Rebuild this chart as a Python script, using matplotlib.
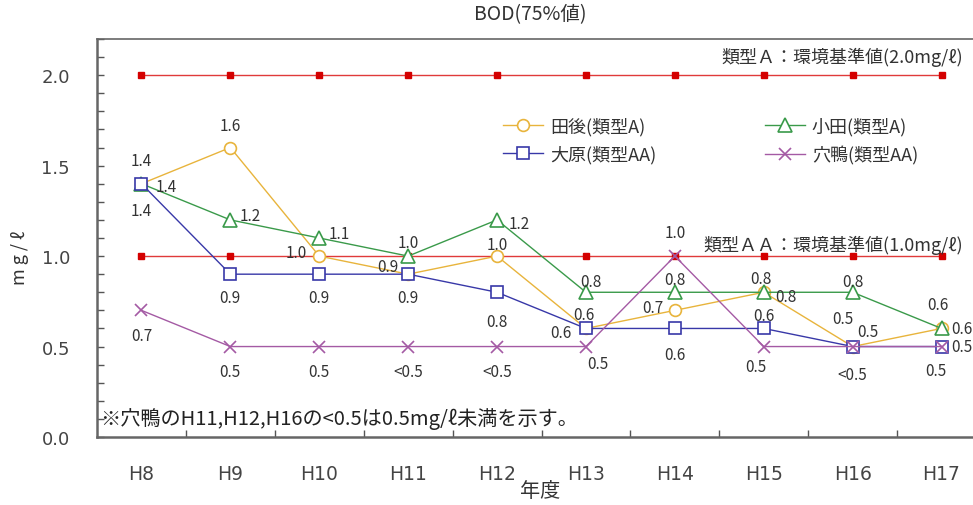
import matplotlib
matplotlib.use("Agg")
import matplotlib.pyplot as plt
from matplotlib.ticker import MultipleLocator, FixedLocator

plt.rcParams['font.family'] = ['Noto Sans CJK JP', 'DejaVu Sans']

# -----------------------------
# DATA
# -----------------------------
years = ["H8", "H9", "H10", "H11", "H12", "H13", "H14", "H15", "H16", "H17"]

tago = [1.4, 1.6, 1.0, 0.9, 1.0, 0.6, 0.7, 0.8, 0.5, 0.6]
oda = [1.4, 1.2, 1.1, 1.0, 1.2, 0.8, 0.8, 0.8, 0.8, 0.6]
ohara = [1.4, 0.9, 0.9, 0.9, 0.8, 0.6, 0.6, 0.6, 0.5, 0.5]
anagamo = [0.7, 0.5, 0.5, 0.5, 0.5, 0.5, 1.0, 0.5, 0.5, 0.5]

tago_lbl = ["1.4", "1.6", "1.0", "0.9", "1.0", "0.6", "0.7", "0.8", "0.5", "0.6"]
oda_lbl = ["1.4", "1.2", "1.1", "1.0", "1.2", "0.8", "0.8", "0.8", "0.8", "0.6"]
ohara_lbl = ["1.4", "0.9", "0.9", "0.9", "0.8", "0.6", "0.6", "0.6", "0.5", "0.5"]
anagamo_lbl = ["0.7", "0.5", "0.5", "<0.5", "<0.5", "0.5", "1.0", "0.5", "<0.5", "0.5"]

std_a = 2.0
std_aa = 1.0

# label offsets (pixels) for each point
tago_off = [(0, 23), (0, 22), (-23, 4), (-20, 8), (0, 12), (-2, 14), (-22, 3), (22, -4), (15, 15), (20, 0)]
oda_off = [(25, -3), (20, 4), (20, 4), (0, 14), (22, -4), (5, 11), (0, 13), (-3, 14), (0, 11), (-4, 24)]
ohara_off = [(0, -27), (0, -23), (0, -23), (0, -23), (0, -29), (-25, -4), (0, -26), (0, 13), (-10, 28), (20, 0)]
anagamo_off = [(0, -25), (0, -25), (0, -25), (0, -25), (0, -25), (12, -17), (0, 24), (-8, -20), (0, -28), (-6, -24)]

# -----------------------------
# PLOT
# -----------------------------
fig = plt.figure(figsize=(9.73, 5.06), dpi=100)
ax = fig.add_axes([97 / 973, 68 / 506, 889 / 973, 398 / 506])

x = list(range(len(years)))

# environmental standard lines
for std in (std_a, std_aa):
    ax.plot(x, [std] * len(x), color="#e03a3a", lw=1.0, marker="s", ms=3.8,
            mfc="#d40000", mec="#d40000", zorder=2)

series = [
    (tago, "田後(類型A)", "#e8b43c", "o", 8.5),
    (oda, "小田(類型A)", "#3a9a4a", "^", 9.5),
    (ohara, "大原(類型AA)", "#3838a8", "s", 9),
    (anagamo, "穴鴨(類型AA)", "#a45aa4", "x", 9),
]
handles = []
for vals, name, col, mk, ms in series:
    h, = ax.plot(x, vals, color=col, lw=1.0, marker=mk, ms=ms, mfc="white",
                 mec=col, mew=1.2, label=name, zorder=3)
    handles.append(h)

for vals, lbls, offs in [(tago, tago_lbl, tago_off), (oda, oda_lbl, oda_off),
                         (ohara, ohara_lbl, ohara_off),
                         (anagamo, anagamo_lbl, anagamo_off)]:
    for xi, v, t, o in zip(x, vals, lbls, offs):
        ax.annotate(t, (xi, v), xytext=o, textcoords="offset pixels",
                    ha="center", va="center", fontsize=11, color="#333333")

# standard value captions
ax.annotate("類型Ａ：環境基準値(2.0mg/ℓ)", (9, std_a), xytext=(21, 19),
            textcoords="offset pixels", ha="right", va="center",
            fontsize=13, color="#333333")
ax.annotate("類型ＡＡ：環境基準値(1.0mg/ℓ)", (9, std_aa), xytext=(21, 12),
            textcoords="offset pixels", ha="right", va="center",
            fontsize=13, color="#333333")

ax.text(0.004, 0.047, "※穴鴨のH11,H12,H16の<0.5は0.5mg/ℓ未満を示す。",
        transform=ax.transAxes, ha="left", va="center", fontsize=14.5,
        color="#222222")

# legend: row 1 田後 / 小田, row 2 大原 / 穴鴨
order = [handles[0], handles[2], handles[1], handles[3]]
leg = ax.legend(handles=order, labels=[h.get_label() for h in order],
                ncol=2, frameon=False, loc="upper left",
                bbox_to_anchor=(0.457, 0.805), borderpad=0, borderaxespad=0,
                handlelength=2.2, columnspacing=6.0, labelspacing=0.55,
                handletextpad=0.4, fontsize=13)
for t in leg.get_texts():
    t.set_color("#333333")

# axes
ax.set_xlim(-0.5, len(years) - 0.5)
ax.set_ylim(0, 2.2)
ax.yaxis.set_major_locator(MultipleLocator(0.5))
ax.yaxis.set_minor_locator(MultipleLocator(0.1))
ax.set_yticklabels([f"{v:.1f}" for v in ax.get_yticks()],
                   family="DejaVu Sans")
ax.tick_params(axis="y", which="both", direction="in", length=5, width=1,
               color="#555555", pad=19.5, labelsize=13, labelcolor="#444444")
ax.set_xticks(x)
ax.set_xticklabels(years, family="DejaVu Sans")
ax.xaxis.set_minor_locator(FixedLocator([i + 0.5 for i in x[:-1]]))
ax.tick_params(axis="x", which="major", length=0, pad=19.5, labelsize=13.5,
               labelcolor="#444444")
ax.tick_params(axis="x", which="minor", direction="in", length=5, width=1,
               color="#555555")

for s in ["left", "bottom"]:
    ax.spines[s].set_color("#666666")
    ax.spines[s].set_linewidth(1.8)
ax.spines["top"].set_color("#666666")
ax.spines["top"].set_linewidth(1.2)
ax.spines["right"].set_visible(False)

fig.text(530 / 973, 1 - 15 / 506, "BOD(75%値)", ha="center", va="center",
         fontsize=14, color="#333333")
fig.text(20 / 973, 1 - 258 / 506, "m g / ℓ", ha="center", va="center",
         rotation=90, fontsize=13, color="#333333")
fig.text(540 / 973, 1 - 492 / 506, "年度", ha="center", va="center",
         fontsize=14.5, color="#333333")

fig.savefig("out.png", dpi=100, facecolor="white")
